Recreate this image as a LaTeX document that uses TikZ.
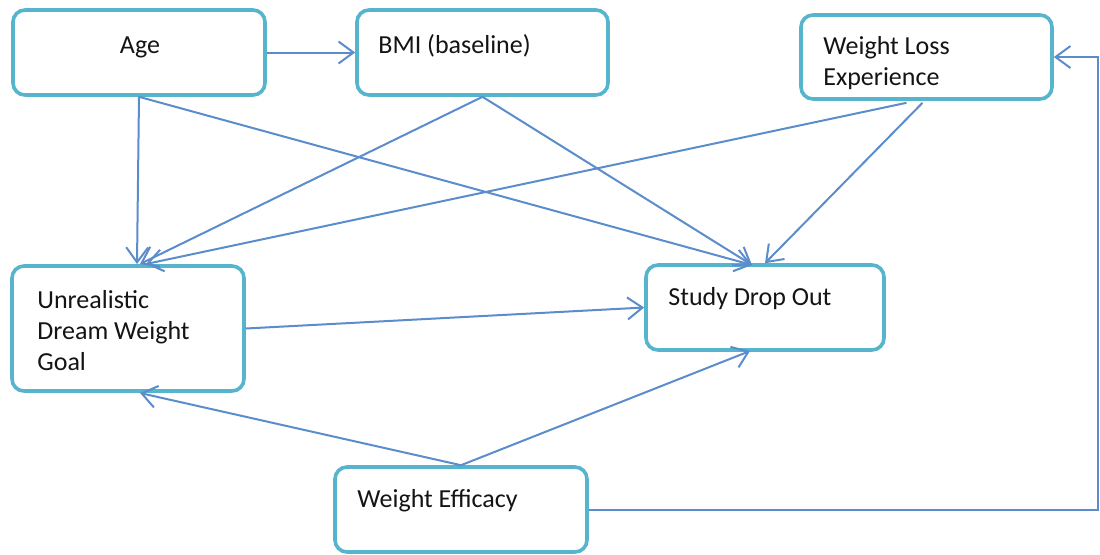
\documentclass[tikz,border=0pt]{standalone}
\usepackage{fontspec}
\setmainfont{Carlito}
\usepackage{xcolor}
\usetikzlibrary{arrows.meta,calc,positioning}
\definecolor{BoxLine}{HTML}{56B4CD}
\definecolor{LinkBlue}{HTML}{5B8CCB}
\definecolor{Ink}{HTML}{141414}
\tikzset{
  varbox/.style={draw=BoxLine,fill=white,line width=1.8pt,rounded corners=6pt,inner sep=0pt},
  boxtext/.style={font=\fontsize{13}{15.5}\selectfont,text=Ink,inner sep=0pt,align=left},
  link/.style={draw=LinkBlue,line width=1pt,-{Straight Barb[length=7.5pt,width=11pt]}}
}
\begin{document}
\begin{tikzpicture}[x=0.5pt,y=-0.5pt]
  \useasboundingbox (0,0) rectangle (1100,554);

  \node[varbox,minimum width=126pt,minimum height=42.5pt] (age) at (139,52.5) {};
  \node[varbox,minimum width=125.5pt,minimum height=42.5pt] (bmi) at (482.5,52.5) {};
  \node[varbox,minimum width=125.5pt,minimum height=42pt] (wle) at (926.5,57) {};
  \node[varbox,minimum width=116pt,minimum height=62.5pt] (udw) at (128,328.5) {};
  \node[varbox,minimum width=119pt,minimum height=42.5pt] (sdo) at (765,307.5) {};
  \node[varbox,minimum width=126pt,minimum height=42.5pt] (eff) at (461,509.5) {};

  \node[boxtext,anchor=base] (ageText) at (140,53) {Age};
  \node[boxtext,anchor=base west] (bmiText) at (378,53) {BMI (baseline)};
  \node[boxtext,anchor=base west] (wleText) at (823,85) {Weight Loss\\Experience};
  \node[boxtext,anchor=base west] (udwText) at (37,370) {Unrealistic\\Dream Weight\\Goal};
  \node[boxtext,anchor=base west] (sdoText) at (668,305) {Study Drop Out};
  \node[boxtext,anchor=base west] (effText) at (357,507) {Weight Efficacy};

  \coordinate (udwTop) at (140,264);
  \coordinate (udwBottom) at (140,393);
  \coordinate (sdoTop) at (752,265);
  \coordinate (sdoBottom) at (750,351);
  \coordinate (loopTop) at (1098,57);

  \draw[link] (age.east) -- (bmi.west);
  \draw[link] (age.south) -- ($(udwTop)+(-3,0)$);
  \draw[link] (age.south) -- (sdoTop);
  \draw[link] (bmi.south) -- (udwTop);
  \draw[link] (bmi.south) -- (sdoTop);
  \draw[link] ($(wle.south)+(-20,2)$) -- ($(udwTop)+(6,0)$);
  \draw[link] ($(wle.south)+(-4,2)$) -- (sdo.north);
  \draw[link] (udw.east) -- (sdo.west);
  \draw[link] (eff.north) -- (udwBottom);
  \draw[link] (eff.north) -- (sdoBottom);
  \draw[link] (eff.east) -| (loopTop) -- (wle.east);
\end{tikzpicture}
\end{document}
